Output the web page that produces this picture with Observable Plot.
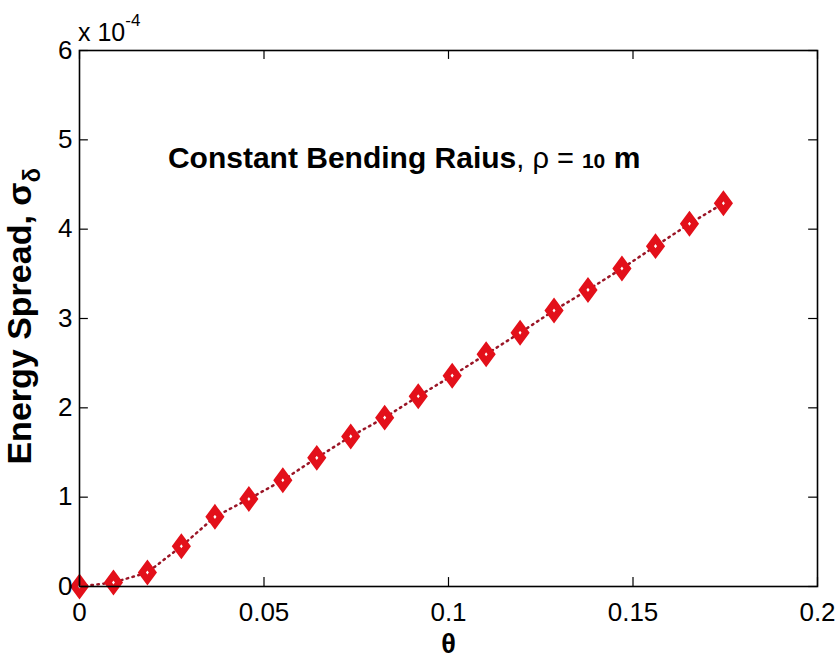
<!DOCTYPE html>
<html>
<head>
<meta charset="utf-8">
<script src="https://cdn.jsdelivr.net/npm/d3@7"></script>
<script src="https://cdn.jsdelivr.net/npm/@observablehq/plot@0.6"></script>
<style>
  html, body { margin: 0; padding: 0; background: #fff; }
</style>
</head>
<body>
<div id="chart"></div>
<script>
// Data (energy spread in units of 1e-4)
const theta = [0, 0.0092, 0.0184, 0.0276, 0.0367, 0.0459, 0.0551, 0.0643, 0.0735, 0.0827,
               0.0918, 0.1010, 0.1102, 0.1194, 0.1286, 0.1378, 0.1470, 0.1561, 0.1653, 0.1745];
const sigmaE4 = [0, 0.045, 0.157, 0.45, 0.78, 0.98, 1.19, 1.44, 1.68, 1.89,
                 2.13, 2.36, 2.60, 2.84, 3.09, 3.32, 3.56, 3.81, 4.06, 4.29];
const xTicks = [0, 0.05, 0.1, 0.15, 0.2];
const yTicks = [0, 1, 2, 3, 4, 5, 6];
const xTickLabels = ["0", "0.05", "0.1", "0.15", "0.2"];
const yTickLabels = ["0", "1", "2", "3", "4", "5", "6"];
const xLabel = "θ";
const yLabelMain = "Energy Spread, σ";
const yLabelSub = "δ";
const annoBold = "Constant Bending Raius";
const annoRest = ", ρ = ";
const annoNum = "10";
const annoUnit = " m";

const data = theta.map((t, i) => ({theta: t, s: sigmaE4[i]}));

// tall diamond marker (MATLAB 'd')
const tallDiamond = {
  draw(ctx, size) {
    const r = Math.sqrt(size / Math.PI);
    const h = r * 1.0, w = r * 0.74;
    ctx.moveTo(0, -h); ctx.lineTo(w, 0); ctx.lineTo(0, h); ctx.lineTo(-w, 0); ctx.closePath();
  }
};

const tickLenX = 0.0024;  // inward tick length in x data units
const tickLenY = 0.10;    // inward tick length in y data units

const svg = Plot.plot({
  width: 836,
  height: 660,
  marginLeft: 79,
  marginRight: 19,
  marginTop: 50,
  marginBottom: 74,
  x: {domain: [0, 0.2]},
  y: {domain: [0, 6]},
  style: {fontFamily: "'Liberation Sans', Arial, sans-serif", background: "#fff", color: "#000"},
  marks: [
    Plot.line(data, {x: "theta", y: "s", stroke: "#9a1526", strokeWidth: 2.5, strokeDasharray: "1.5,4.5"}),
    Plot.dot(data, {x: "theta", y: "s", symbol: tallDiamond, r: 7.5, fill: "#fff", stroke: "#e3101a", strokeWidth: 6.5, strokeLinejoin: "miter"}),
    // inward ticks
    Plot.ruleX(xTicks, {x: d => d, y1: 0, y2: tickLenY, stroke: "#000", strokeWidth: 1.2}),
    Plot.ruleX(xTicks, {x: d => d, y1: 6, y2: 6 - tickLenY, stroke: "#000", strokeWidth: 1.2}),
    Plot.ruleY(yTicks, {y: d => d, x1: 0, x2: tickLenX, stroke: "#000", strokeWidth: 1.2}),
    Plot.ruleY(yTicks, {y: d => d, x1: 0.2, x2: 0.2 - tickLenX, stroke: "#000", strokeWidth: 1.2}),
    Plot.frame({stroke: "#000", strokeWidth: 1.6}),
    Plot.axisX(xTicks, {tickSize: 0, tickPadding: 16, fontSize: 26, label: null,
      tickFormat: d => xTickLabels[xTicks.indexOf(d)]}),
    Plot.axisY(yTicks, {tickSize: 0, tickPadding: 7, fontSize: 26, label: null,
      tickFormat: d => yTickLabels[yTicks.indexOf(d)]}),
    Plot.text([xLabel], {frameAnchor: "bottom", dy: 66, fontSize: 27, fontWeight: "bold", text: d => d})
  ]
});

document.getElementById("chart").appendChild(svg);

const sx = svg.scale("x"), sy = svg.scale("y");
const g = d3.select(svg);

// exponent label above the y axis
const expo = g.append("text")
  .attr("x", sx.apply(0) - 1)
  .attr("y", sy.apply(6) - 9)
  .attr("text-anchor", "start")
  .attr("font-size", 25)
  .attr("font-family", "'Liberation Sans', Arial, sans-serif")
  .attr("fill", "#000");
expo.append("tspan").text("x 10");
expo.append("tspan").attr("font-size", 17).attr("dy", -15).text("-4");

// y axis label with subscript
const yl = g.append("text")
  .attr("transform", `translate(${sx.apply(0) - 48},${sy.apply(3.02)}) rotate(-90)`)
  .attr("text-anchor", "middle")
  .attr("font-size", 34)
  .attr("font-weight", "bold")
  .attr("font-family", "'Liberation Sans', Arial, sans-serif")
  .attr("fill", "#000");
yl.append("tspan").text(yLabelMain);
yl.append("tspan").attr("font-size", 24).attr("dy", 9).text(yLabelSub);

// annotation
const an = g.append("text")
  .attr("x", sx.apply(0.0241))
  .attr("y", sy.apply(4.68))
  .attr("text-anchor", "start")
  .attr("font-family", "'Liberation Sans', Arial, sans-serif")
  .attr("fill", "#000");
an.append("tspan").attr("font-size", 30).attr("font-weight", "bold").text(annoBold);
an.append("tspan").attr("font-size", 29).text(annoRest);
an.append("tspan").attr("font-size", 21).attr("font-weight", "bold").text(annoNum);
an.append("tspan").attr("font-size", 30).attr("font-weight", "bold").text(annoUnit);
</script>
</body>
</html>
